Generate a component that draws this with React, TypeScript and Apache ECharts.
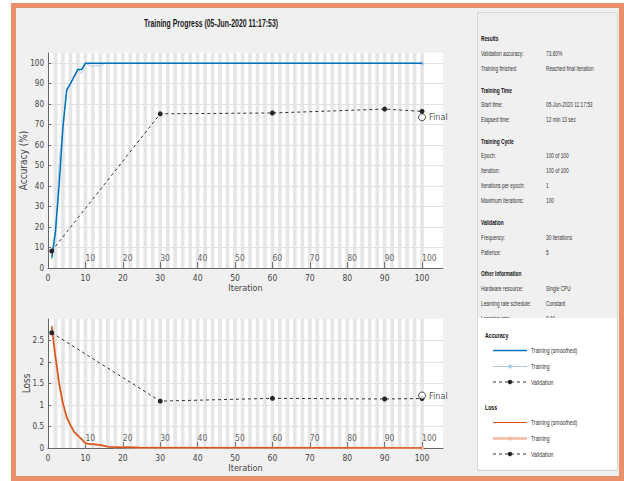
import React, { useEffect, useRef } from "react";
import * as echarts from "echarts";

// ---------- data ----------
const EPOCHS = 100;
const X_MAX = 105.6;
const iterationTicks = [0, 10, 20, 30, 40, 50, 60, 70, 80, 90, 100];
const epochTicks = [10, 20, 30, 40, 50, 60, 70, 80, 90, 100];
const accTicks = [0, 10, 20, 30, 40, 50, 60, 70, 80, 90, 100];
const lossTicks = [0, 0.5, 1, 1.5, 2, 2.5];

const accRawIter = [1, 2, 3, 4, 5, 6, 7, 8, 9, 10, 11, 12, 13, 14, 15, 100];
const accRaw = [4, 16, 52, 70, 86, 90, 94, 97, 95, 100, 99, 98.5, 99, 98.5, 100, 100];
const accSmoothIter = [1, 2, 3, 4, 5, 6, 7, 8, 9, 10, 100];
const accSmooth = [5, 18, 41, 69, 87, 90, 93.5, 97, 97, 100, 100];
const valIter = [1, 30, 60, 90, 100];
const valAcc = [8.3, 75.3, 75.7, 77.6, 76.5];
const finalAcc = 73.6;

const lossRawIter = [1, 2, 3, 4, 5, 6, 7, 8, 9, 10, 11, 12, 13, 14, 15, 16, 18, 20, 23, 25, 30, 100];
const lossRaw = [2.85, 2.1, 1.45, 1.0, 0.7, 0.52, 0.36, 0.27, 0.2, 0.1, 0.09, 0.085, 0.075, 0.065, 0.045, 0.03, 0.02, 0.018, 0.012, 0.005, 0.004, 0.002];
const lossSmoothIter = [1, 2, 3, 4, 5, 6, 7, 8, 9, 10, 11, 12, 13, 14, 15, 16, 18, 20, 23, 25, 30, 100];
const lossSmooth = [2.82, 2.12, 1.5, 1.04, 0.73, 0.53, 0.38, 0.29, 0.21, 0.11, 0.1, 0.09, 0.08, 0.07, 0.05, 0.03, 0.02, 0.02, 0.015, 0.006, 0.004, 0.002];
const valLoss = [2.68, 1.09, 1.155, 1.14, 1.15];
const finalLoss = 1.22;

const titleText = "Training Progress (05-Jun-2020 11:17:53)";

const panelSections: { heading: string; rows: [string, string][] }[] = [
  { heading: "Results", rows: [["Validation accuracy:", "73.60%"], ["Training finished:", "Reached final iteration"]] },
  { heading: "Training Time", rows: [["Start time:", "05-Jun-2020 11:17:53"], ["Elapsed time:", "12 min 13 sec"]] },
  {
    heading: "Training Cycle",
    rows: [["Epoch:", "100 of 100"], ["Iteration:", "100 of 100"], ["Iterations per epoch:", "1"], ["Maximum iterations:", "100"]],
  },
  { heading: "Validation", rows: [["Frequency:", "30 iterations"], ["Patience:", "5"]] },
  {
    heading: "Other Information",
    rows: [["Hardware resource:", "Single CPU"], ["Learning rate schedule:", "Constant"], ["Learning rate:", "0.01"]],
  },
];

const legendGroups = [
  { heading: "Accuracy", items: ["Training (smoothed)", "Training", "Validation"] },
  { heading: "Loss", items: ["Training (smoothed)", "Training", "Validation"] },
];

// ---------- styles ----------
const NARROW = "'Liberation Sans Narrow', 'Arial Narrow', 'DejaVu Sans Condensed', 'Liberation Sans', Arial, sans-serif";
const SANS = "'Liberation Sans', Arial, sans-serif";
const BLUE = "#0072bd";
const LIGHT_BLUE = "#a9cce9";
const ORANGE = "#d95319";
const LIGHT_ORANGE = "#f3b89d";
const DARK = "#262626";
const FRAME = "#e9906a";
const BG = "#f0f0f0";

const zip = (xs: number[], ys: number[]) => xs.map((x, i) => [x, ys[i]]);

function buildStripes() {
  const s: any[] = [];
  for (let k = 2; k <= EPOCHS; k += 2) s.push([{ xAxis: k - 0.5 }, { xAxis: k + 0.5 }]);
  return s;
}

function mainX(gridIndex: number) {
  return {
    type: "value",
    gridIndex,
    min: 0,
    max: X_MAX,
    position: "bottom",
    z: 3,
    name: "Iteration",
    nameLocation: "middle",
    nameGap: 15,
    nameMoveOverlap: false,
    nameTextStyle: { fontSize: 9, color: "#444", fontFamily: NARROW },
    axisLine: { show: true, onZero: false, lineStyle: { color: "#666" } },
    axisTick: { show: false },
    axisLabel: { fontSize: 8.5, color: "#444", margin: 5, fontFamily: NARROW, customValues: iterationTicks },
    splitLine: { show: false },
  };
}
function epochX(gridIndex: number) {
  return {
    type: "value",
    gridIndex,
    min: 0,
    max: X_MAX,
    position: "bottom",
    z: 3,
    axisLine: { show: false },
    axisTick: { show: true, inside: true, length: 6, lineStyle: { color: "#777" }, customValues: epochTicks },
    axisLabel: {
      inside: true,
      fontSize: 8.5,
      color: "#666",
      margin: 6,
      align: "left",
      fontFamily: NARROW,
      customValues: epochTicks,
    },
    splitLine: { show: false },
  };
}
function yAx(gridIndex: number, max: number, interval: number, name: string, ticks: number[], gap: number) {
  return {
    type: "value",
    gridIndex,
    min: 0,
    max,
    interval,
    z: 3,
    name,
    nameLocation: "middle",
    nameRotate: 90,
    nameGap: gap,
    nameMoveOverlap: false,
    nameTextStyle: { fontSize: 10, color: "#444", fontFamily: NARROW },
    axisLine: { show: true, lineStyle: { color: "#666" } },
    axisTick: { show: true, inside: true, length: 3, lineStyle: { color: "#666" }, customValues: ticks },
    axisLabel: { fontSize: 8, color: "#444", margin: 4, fontFamily: NARROW, customValues: ticks },
    splitLine: { show: true, lineStyle: { color: "#e2e2e2", width: 1 } },
  };
}

function seriesFor(axisIndex: number, raw: number[][], smooth: number[][], val: number[][], finalVal: number, rawColor: string, smoothColor: string, rawWidth: number) {
  const stripes = buildStripes();
  const rawData: any[] = raw.map((p, i) =>
    i === raw.length - 1 ? { value: p, symbol: "circle", symbolSize: 4 } : p
  );
  return [
    {
      type: "line",
      xAxisIndex: axisIndex * 2,
      yAxisIndex: axisIndex,
      data: [],
      silent: true,
      z: 1,
      markArea: { silent: true, itemStyle: { color: "#e6e6e6" }, data: stripes },
    },
    {
      type: "line",
      xAxisIndex: axisIndex * 2,
      yAxisIndex: axisIndex,
      data: rawData,
      symbol: "none",
      itemStyle: { color: rawColor },
      lineStyle: { color: rawColor, width: rawWidth },
      z: 4,
    },
    {
      type: "line",
      xAxisIndex: axisIndex * 2,
      yAxisIndex: axisIndex,
      data: smooth,
      symbol: "none",
      lineStyle: { color: smoothColor, width: 1.5 },
      z: 5,
    },
    {
      type: "line",
      xAxisIndex: axisIndex * 2,
      yAxisIndex: axisIndex,
      data: val,
      symbol: "circle",
      symbolSize: 5,
      itemStyle: { color: DARK },
      lineStyle: { color: "#333", width: 1, type: [3, 3] },
      z: 6,
    },
    {
      type: "scatter",
      xAxisIndex: axisIndex * 2,
      yAxisIndex: axisIndex,
      data: [[100, finalVal]],
      symbol: "circle",
      symbolSize: 7,
      itemStyle: { color: "#fff", borderColor: DARK, borderWidth: 1 },
      label: { show: true, position: "right", distance: 3, formatter: "Final", fontSize: 9, color: DARK, fontFamily: NARROW },
      z: 7,
    },
  ];
}

function buildGraphic() {
  const els: any[] = [];
  // frame
  els.push({
    type: "rect",
    z: -10,
    silent: true,
    shape: { x: 13.5, y: 5.5, width: 608, height: 473 },
    style: { fill: BG, stroke: FRAME, lineWidth: 5 },
  });
  // title
  els.push({
    type: "text",
    x: 211,
    y: 23,
    scaleX: 0.6,
    z: 10,
    style: { text: titleText, x: 0, y: 0, align: "center", verticalAlign: "middle", fontSize: 11.5, fontWeight: "bold", fill: "#1a1a1a", fontFamily: SANS },
  });
  // right panel
  els.push({
    type: "rect",
    z: -5,
    silent: true,
    shape: { x: 477.5, y: 12.5, width: 140, height: 458 },
    style: { fill: BG, stroke: "#d6d6d6", lineWidth: 1 },
  });
  const SX = 0.6;
  let y = 38.3;
  panelSections.forEach((sec, si) => {
    if (si > 0) y += 21.5;
    els.push({
      type: "text",
      x: 481,
      y,
      scaleX: SX,
      z: 5,
      style: { text: sec.heading, align: "left", verticalAlign: "middle", fontSize: 8, fontWeight: "bold", fill: "#111", fontFamily: SANS },
    });
    y += 14.7;
    sec.rows.forEach((r, ri) => {
      els.push({
        type: "text",
        x: 481,
        y,
        scaleX: SX,
        z: 5,
        style: { text: r[0], align: "left", verticalAlign: "middle", fontSize: 8, fill: "#333", fontFamily: SANS },
      });
      els.push({
        type: "text",
        x: 546,
        y,
        scaleX: SX,
        z: 5,
        style: { text: r[1], align: "left", verticalAlign: "middle", fontSize: 8, fill: "#333", fontFamily: SANS },
      });
      if (ri < sec.rows.length - 1) y += 15;
    });
  });

  // legend box
  els.push({
    type: "rect",
    z: 20,
    silent: true,
    shape: { x: 478, y: 318, width: 139, height: 151 },
    style: { fill: "#ffffff" },
  });
  const groupY = [335, 407];
  const itemDY = [15.5, 31.5, 47];
  const lineX1 = 493;
  const lineX2 = 527;
  const midX = (lineX1 + lineX2) / 2;
  legendGroups.forEach((g, gi) => {
    els.push({
      type: "text",
      x: 485,
      y: groupY[gi],
      scaleX: 0.65,
      z: 22,
      style: { text: g.heading, align: "left", verticalAlign: "middle", fontSize: 8, fontWeight: "bold", fill: "#111", fontFamily: SANS },
    });
    g.items.forEach((it, ii) => {
      const yy = groupY[gi] + itemDY[ii];
      els.push({
        type: "text",
        x: 531,
        y: yy,
        scaleX: 0.65,
        z: 22,
        style: { text: it, align: "left", verticalAlign: "middle", fontSize: 8, fill: "#333", fontFamily: SANS },
      });
      const smoothC = gi === 0 ? BLUE : ORANGE;
      const rawC = gi === 0 ? LIGHT_BLUE : LIGHT_ORANGE;
      if (ii === 0) {
        els.push({ type: "line", z: 22, shape: { x1: lineX1, y1: yy, x2: lineX2, y2: yy }, style: { stroke: smoothC, lineWidth: gi === 0 ? 1.5 : 1 } });
      } else if (ii === 1) {
        els.push({ type: "line", z: 22, shape: { x1: lineX1, y1: yy, x2: lineX2, y2: yy }, style: { stroke: rawC, lineWidth: gi === 0 ? 1 : 2.5 } });
        els.push({ type: "circle", z: 23, shape: { cx: midX, cy: yy, r: 2 }, style: { fill: rawC } });
      } else {
        els.push({ type: "line", z: 22, shape: { x1: lineX1, y1: yy, x2: lineX2, y2: yy }, style: { stroke: "#333", lineWidth: 1, lineDash: [3, 3] } });
        els.push({ type: "circle", z: 23, shape: { cx: midX, cy: yy, r: 2.2 }, style: { fill: DARK } });
      }
    });
  });
  return els;
}

export default function App() {
  const ref = useRef<HTMLDivElement>(null);
  useEffect(() => {
    document.body.style.margin = "0";
    if (!ref.current) return;
    const chart = echarts.init(ref.current, undefined, { renderer: "svg" });
    const option: any = {
      animation: false,
      backgroundColor: "#ffffff",
      textStyle: { fontFamily: NARROW },
      grid: [
        { left: 48, top: 53, width: 395, height: 215, show: true, backgroundColor: "#ffffff", borderWidth: 0, containLabel: false },
        { left: 48, top: 319, width: 395, height: 129, show: true, backgroundColor: "#ffffff", borderWidth: 0, containLabel: false },
      ],
      xAxis: [mainX(0), epochX(0), mainX(1), epochX(1)],
      yAxis: [yAx(0, 105, 10, "Accuracy (%)", accTicks, 20), yAx(1, 3, 0.5, "Loss", lossTicks, 17)],
      series: [
        ...seriesFor(0, zip(accRawIter, accRaw), zip(accSmoothIter, accSmooth), zip(valIter, valAcc), finalAcc, LIGHT_BLUE, BLUE, 1),
        ...seriesFor(1, zip(lossRawIter, lossRaw), zip(lossSmoothIter, lossSmooth), zip(valIter, valLoss), finalLoss, LIGHT_ORANGE, ORANGE, 2),
      ],
      graphic: buildGraphic(),
    };
    chart.setOption(option);
    return () => chart.dispose();
  }, []);
  return <div ref={ref} style={{ width: 624, height: 481, position: "absolute", left: 0, top: 0 }} />;
}
